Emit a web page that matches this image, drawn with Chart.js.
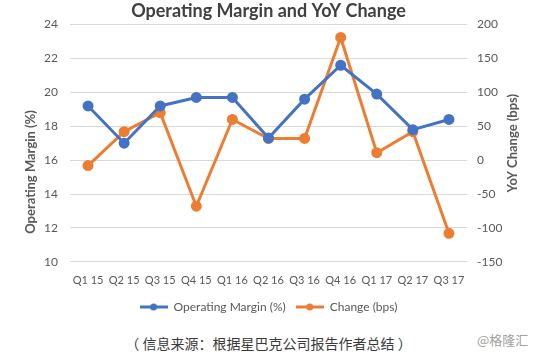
<!DOCTYPE html>
<html>
<head>
<meta charset="utf-8">
<script src="https://cdn.jsdelivr.net/npm/chart.js@4.4.1/dist/chart.umd.min.js"></script>
<style>
  html, body { margin: 0; padding: 0; background: #fff; }
  #wrap { position: relative; width: 537px; height: 353px; overflow: hidden; }
  #box { position: absolute; left: 0; top: 0; width: 537px; height: 327px; }
  #src { position: absolute; left: 0; width: 537px; top: 333px; text-align: center;
         font: 14px "Noto Sans CJK SC", sans-serif; color: #3a3a3a; line-height: 20px; }
  #mark { position: absolute; left: 477px; top: 330px; font: 13px "Noto Sans CJK SC", sans-serif; color: #a0a0a0; }
</style>
</head>
<body>
<div id="wrap">
  <div id="box"><canvas id="marginChart"></canvas></div>
  <div id="src">（ 信息来源：根据星巴克公司报告作者总结 ）</div>
  <div id="mark">@格隆汇</div>
</div>
<script>
const quarters = ['Q1 15', 'Q2 15', 'Q3 15', 'Q4 15', 'Q1 16', 'Q2 16', 'Q3 16', 'Q4 16', 'Q1 17', 'Q2 17', 'Q3 17'];
const operatingMargin = [19.2, 17.0, 19.2, 19.7, 19.7, 17.3, 19.6, 21.6, 19.9, 17.8, 18.4];
const changeBps = [-8, 42, 70, -68, 60, 32, 32, 181, 11, 42, -108];
const marginTicks = [10, 12, 14, 16, 18, 20, 22, 24];
const changeTicks = [-150, -100, -50, 0, 50, 100, 150, 200];

const BLUE = '#4472C4';
const ORANGE = '#ED7D31';
const FONT = 'Lato, "Open Sans", sans-serif';

// legend marker: short line with a dot, like Excel
function legendMark(color) {
    const c = document.createElement('canvas');
    c.width = 28; c.height = 10;
    const g = c.getContext('2d');
    g.strokeStyle = color; g.lineWidth = 3;
    g.beginPath(); g.moveTo(0, 5); g.lineTo(28, 5); g.stroke();
    g.fillStyle = color;
    g.beginPath(); g.arc(14, 5, 3.5, 0, Math.PI * 2); g.fill();
    return c;
}

// axis titles drawn by hand so the left one can sit lower like the original
const axisTitles = {
    id: 'axisTitles',
    afterDraw(chart) {
        const { ctx, chartArea } = chart;
        const put = (text, x, y) => {
            ctx.save();
            ctx.fillStyle = '#595959';
            ctx.font = 'bold 13px ' + FONT;
            ctx.textAlign = 'center';
            ctx.textBaseline = 'middle';
            ctx.translate(x, y);
            ctx.rotate(-Math.PI / 2);
            ctx.fillText(text, 0, 0);
            ctx.restore();
        };
        put('Operating Margin (%)', 31, 172);
        put('YoY Change (bps)', 513, (chartArea.top + chartArea.bottom) / 2);
    }
};

new Chart(document.getElementById('marginChart'), {
    type: 'line',
    data: {
        labels: quarters,
        datasets: [{
            label: 'Operating Margin (%)',
            data: operatingMargin,
            borderColor: BLUE,
            backgroundColor: BLUE,
            borderWidth: 3,
            pointRadius: 4,
            pointHoverRadius: 4,
            tension: 0,
            yAxisID: 'yMargin'
        }, {
            label: 'Change (bps)',
            data: changeBps,
            borderColor: ORANGE,
            backgroundColor: ORANGE,
            borderWidth: 3,
            pointRadius: 4,
            pointHoverRadius: 4,
            tension: 0,
            yAxisID: 'yChange'
        }]
    },
    options: {
        responsive: true,
        maintainAspectRatio: false,
        animation: false,
        layout: { padding: { top: 0, bottom: 4, left: 0, right: 0 } },
        scales: {
            x: {
                offset: true,
                grid: { display: false },
                border: { display: false },
                ticks: { color: '#595959', font: { family: FONT, size: 11 }, padding: 4, maxRotation: 0 }
            },
            yMargin: {
                position: 'left',
                min: 10, max: 24,
                afterBuildTicks: (s) => { s.ticks = marginTicks.map(v => ({ value: v })); },
                afterFit: (s) => { s.width = 70; },
                grid: { color: '#d9d9d9', lineWidth: 1, drawTicks: false },
                border: { display: false },
                ticks: { color: '#595959', font: { family: FONT, size: 12 }, padding: 12 }
            },
            yChange: {
                position: 'right',
                min: -150, max: 200,
                afterBuildTicks: (s) => { s.ticks = changeTicks.map(v => ({ value: v })); },
                afterFit: (s) => { s.width = 70; },
                grid: { drawOnChartArea: false, drawTicks: false },
                border: { display: false },
                ticks: { color: '#595959', font: { family: FONT, size: 12 }, padding: 10 }
            }
        },
        plugins: {
            title: {
                display: true,
                text: 'Operating Margin and YoY Change',
                color: '#404040',
                font: { family: FONT, size: 18, weight: 'bold' },
                padding: { top: 0, bottom: 3 }
            },
            legend: {
                position: 'bottom',
                labels: {
                    color: '#595959',
                    font: { family: FONT, size: 12 },
                    usePointStyle: true,
                    pointStyleWidth: 28,
                    boxHeight: 10,
                    padding: 10,
                    generateLabels: (chart) => chart.data.datasets.map((d, i) => ({
                        text: d.label,
                        fontColor: '#595959',
                        pointStyle: legendMark(d.borderColor),
                        strokeStyle: d.borderColor,
                        fillStyle: d.borderColor,
                        lineWidth: 0,
                        datasetIndex: i
                    }))
                }
            },
            tooltip: { enabled: false }
        }
    },
    plugins: [axisTitles]
});
</script>
</body>
</html>
